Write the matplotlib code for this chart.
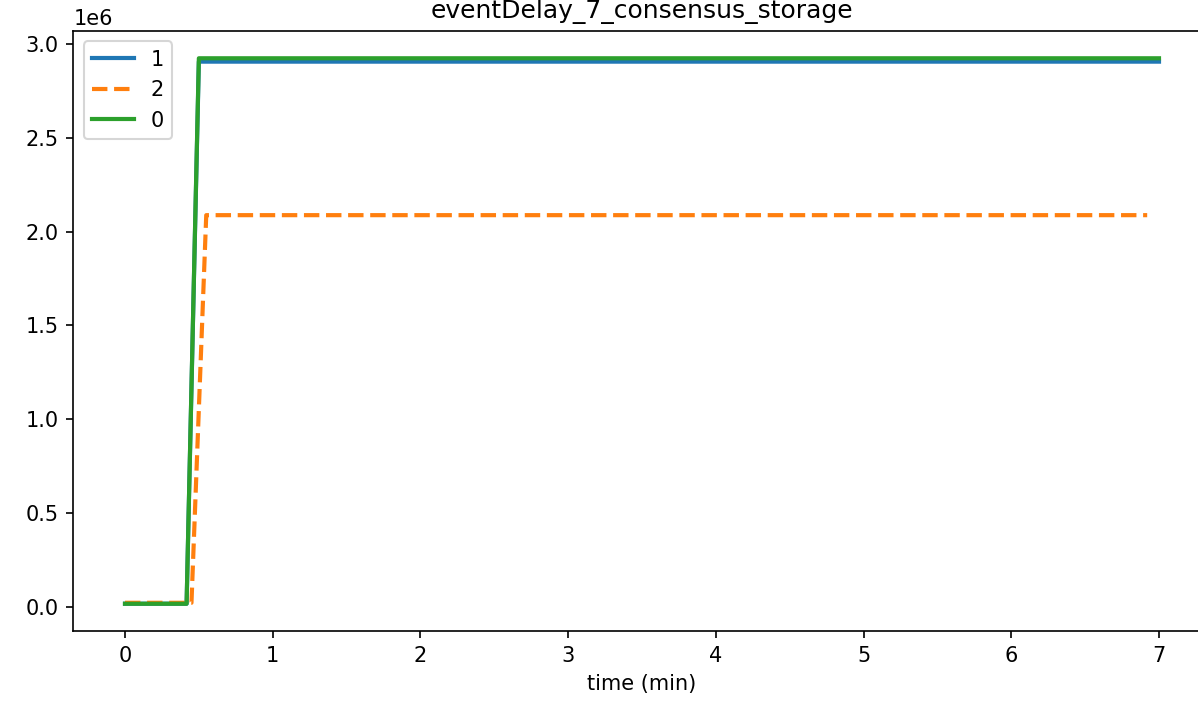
import matplotlib
matplotlib.use("Agg")
import matplotlib.pyplot as plt

# ── Data ──────────────────────────────────────────────────────────────────────
time_1 = [0.0, 0.417, 0.5, 7.0]
value_1 = [0.015e6, 0.015e6, 2.907e6, 2.907e6]

time_2 = [0.0, 0.45, 0.55, 6.92]
value_2 = [0.02e6, 0.02e6, 2.088e6, 2.088e6]

time_0 = [0.0, 0.417, 0.5, 7.0]
value_0 = [0.015e6, 0.015e6, 2.925e6, 2.925e6]

labels = ["1", "2", "0"]

# ── Plot ──────────────────────────────────────────────────────────────────────
DPI = 150
fig = plt.figure(figsize=(1198 / DPI, 702 / DPI), dpi=DPI)
ax = fig.add_axes([73.3 / 1198, 71 / 702, 1137.4 / 1198, 600 / 702])

ax.plot(time_1, value_1, "-", color="#1f77b4", label=labels[0], linewidth=2)
ax.plot(time_2, value_2, "--", color="#ff7f0e", label=labels[1], linewidth=2)
ax.plot(time_0, value_0, "-", color="#2ca02c", label=labels[2], linewidth=2)

ax.set_title("eventDelay_7_consensus_storage")
ax.set_xlabel("time (min)")
ax.legend(loc="upper left")

fig.savefig("out.png", dpi=DPI)
